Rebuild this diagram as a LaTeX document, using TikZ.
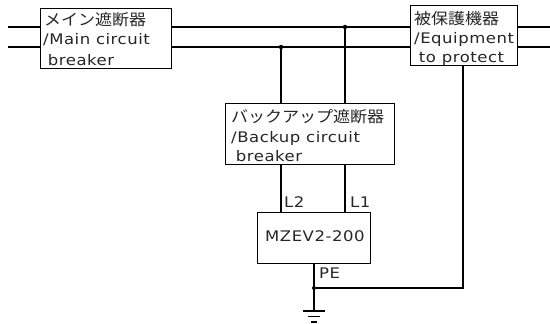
\documentclass[tikz,border=0pt]{standalone}
\usepackage{fontspec}
\setmainfont[FakeStretch=1.13,LetterSpace=3.6]{DejaVu Sans}
\newfontfamily\jpfont[FakeStretch=1.09]{Noto Sans CJK JP}
\tikzset{
 x=1pt,y=-1pt,
 wire/.style={line width=1.6pt,line cap=butt},
 box/.style={draw,line width=1.2pt,fill=white,inner sep=0pt,anchor=north west,text=black!85},
 lbl/.style={inner sep=0pt,anchor=base west,font=\fontsize{14.6}{16}\selectfont,text=black!85},
 dot/.style={circle,fill=black,inner sep=0pt,minimum size=4.5pt},
}
\begin{document}
\begin{tikzpicture}
\useasboundingbox (0,0) rectangle (550,324);
\coordinate (a1) at (8,27); \coordinate (a2) at (8,47);
\coordinate (b1) at (550,27); \coordinate (b2) at (550,47);
\draw[wire] (a1)--(b1); \draw[wire] (a2)--(b2);
\node[dot] (j1) at (345,27) {};
\node[dot] (j2) at (281,47) {};
\node[box,minimum width=131pt,minimum height=60pt] (main) at (40,8) {};
\node[box,minimum width=107pt,minimum height=60pt] (equip) at (410,5) {};
\node[box,minimum width=169pt,minimum height=61pt] (backup) at (225,103) {};
\node[box,minimum width=113pt,minimum height=51pt] (mz) at (257,212) {};
\node[lbl] (t1) at (44,26) {\jpfont\fontsize{15.6}{16}\selectfont メイン遮断器};
\node[lbl] (t2) at (43,45) {/Main circuit};
\node[lbl] (t3) at (43,65) {\hspace{-1pt}\ breaker};
\node[lbl] (t4) at (414,24) {\jpfont\fontsize{15.6}{16}\selectfont 被保護機器};
\node[lbl] (t5) at (414,43) {/Equipment};
\node[lbl] (t6) at (414,62) {\hspace{-1pt}\ to protect};
\node[lbl] (t7) at (231,122) {\jpfont\fontsize{15.6}{16}\selectfont バックアップ遮断器};
\node[lbl] (t8) at (231,142) {/Backup circuit};
\node[lbl] (t9) at (231,161) {\hspace{-1pt}\ breaker};
\node[lbl] (m) at (265,241) {MZEV2-200};
\draw[wire] (j2) -- (281,103);
\draw[wire] (j1) -- (345,103);
\draw[wire] (281,164) -- (281,212);
\draw[wire] (345,164) -- (345,212);
\node[lbl] (l2) at (284,207) {L2};
\node[lbl] (l1) at (350,207) {L1};
\node[lbl] (pe) at (319,278) {PE};
\node[dot,minimum size=4pt] (j3) at (314,288) {};
\coordinate (g) at (314,311);
\coordinate (c) at (463,288);
\draw[wire] (mz.south -| j3) -- (g);
\draw[wire] (j3) -- (c) -- (equip.south -| c);
\draw[wire] (303,311) -- (325,311);
\draw[wire] (308,316.5) -- (320,316.5);
\draw[wire,line width=2pt] (311,322) -- (317,322);
\end{tikzpicture}
\end{document}
